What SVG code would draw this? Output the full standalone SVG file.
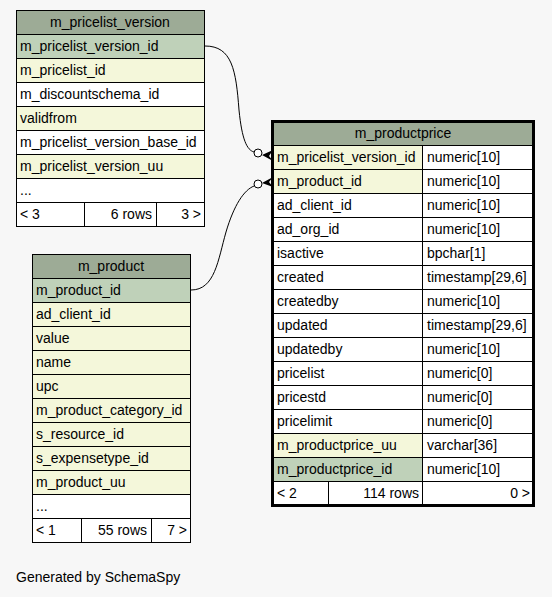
<svg xmlns="http://www.w3.org/2000/svg" width="552" height="597" viewBox="0 0 552 597">
<style>
text{font-family:"Liberation Sans",Arial,sans-serif;font-size:14px;fill:#000}
.c{text-anchor:middle}
.r{text-anchor:end}
.t rect{stroke:#000;stroke-width:1}
.h{fill:#9dab96}
.pk{fill:#bfd1b9}
.y{fill:#f4f7da}
.w{fill:#fff}
.t rect.bold{fill:none;stroke:#000;stroke-width:3}
.edge{fill:none;stroke:#000;stroke-width:1}
.dot{fill:#fff;stroke:#000;stroke-width:1}
</style>
<rect x="0" y="0" width="552" height="597" fill="#f7f7f7"/>

<g id="connectors">
<path class="edge" d="M205,46 C232,46 236,70 239,110 C242,140 247,150 254,152"/>
<circle class="dot" cx="258" cy="153" r="4"/>
<polygon points="262,155 273,150 269,156 273,161" fill="#000"/>
<path class="edge" d="M191,290 C215,290 218,260 226,232 C234,205 244,190 254,186"/>
<circle class="dot" cx="258" cy="184" r="4"/>
<polygon points="262,183 273,177 269,182 273,187" fill="#000"/>
</g>

<g id="m_pricelist_version" class="t">
<rect class="h" x="16.5" y="10.5" width="188" height="24"/>
<text class="c" x="110" y="26.5">m_pricelist_version</text>
<rect class="pk" x="16.5" y="34.5" width="188" height="24"/>
<text x="20" y="50.5">m_pricelist_version_id</text>
<rect class="y" x="16.5" y="58.5" width="188" height="24"/>
<text x="20" y="74.5">m_pricelist_id</text>
<rect class="w" x="16.5" y="82.5" width="188" height="24"/>
<text x="20" y="98.5">m_discountschema_id</text>
<rect class="y" x="16.5" y="106.5" width="188" height="24"/>
<text x="20" y="122.5">validfrom</text>
<rect class="w" x="16.5" y="130.5" width="188" height="24"/>
<text x="20" y="146.5">m_pricelist_version_base_id</text>
<rect class="y" x="16.5" y="154.5" width="188" height="24"/>
<text x="20" y="170.5">m_pricelist_version_uu</text>
<rect class="w" x="16.5" y="178.5" width="188" height="24"/>
<text x="20" y="194.5">...</text>
<rect class="w" x="16.5" y="202.5" width="68" height="24"/>
<rect class="w" x="84.5" y="202.5" width="72" height="24"/>
<rect class="w" x="156.5" y="202.5" width="48" height="24"/>
<text x="20" y="218.5">&lt; 3</text>
<text class="r" x="152" y="218.5">6 rows</text>
<text class="r" x="201" y="218.5">3 &gt;</text>
</g>

<g id="m_product" class="t">
<rect class="h" x="32.5" y="254.5" width="158" height="24"/>
<text class="c" x="111" y="270.5">m_product</text>
<rect class="pk" x="32.5" y="278.5" width="158" height="24"/>
<text x="36" y="294.5">m_product_id</text>
<rect class="y" x="32.5" y="302.5" width="158" height="24"/>
<text x="36" y="318.5">ad_client_id</text>
<rect class="y" x="32.5" y="326.5" width="158" height="24"/>
<text x="36" y="342.5">value</text>
<rect class="y" x="32.5" y="350.5" width="158" height="24"/>
<text x="36" y="366.5">name</text>
<rect class="y" x="32.5" y="374.5" width="158" height="24"/>
<text x="36" y="390.5">upc</text>
<rect class="y" x="32.5" y="398.5" width="158" height="24"/>
<text x="36" y="414.5">m_product_category_id</text>
<rect class="y" x="32.5" y="422.5" width="158" height="24"/>
<text x="36" y="438.5">s_resource_id</text>
<rect class="y" x="32.5" y="446.5" width="158" height="24"/>
<text x="36" y="462.5">s_expensetype_id</text>
<rect class="y" x="32.5" y="470.5" width="158" height="24"/>
<text x="36" y="486.5">m_product_uu</text>
<rect class="w" x="32.5" y="494.5" width="158" height="24"/>
<text x="36" y="510.5">...</text>
<rect class="w" x="32.5" y="518.5" width="49" height="24"/>
<rect class="w" x="81.5" y="518.5" width="70" height="24"/>
<rect class="w" x="151.5" y="518.5" width="39" height="24"/>
<text x="36" y="534.5">&lt; 1</text>
<text class="r" x="147" y="534.5">55 rows</text>
<text class="r" x="187" y="534.5">7 &gt;</text>
</g>

<g id="m_productprice" class="t">
<rect class="h" x="272.5" y="121.5" width="261" height="24"/>
<text class="c" x="403" y="137.5">m_productprice</text>
<rect class="y" x="272.5" y="145.5" width="150" height="24"/>
<rect class="w" x="422.5" y="145.5" width="111" height="24"/>
<text x="277" y="161.5">m_pricelist_version_id</text>
<text x="427" y="161.5">numeric[10]</text>
<rect class="y" x="272.5" y="169.5" width="150" height="24"/>
<rect class="w" x="422.5" y="169.5" width="111" height="24"/>
<text x="277" y="185.5">m_product_id</text>
<text x="427" y="185.5">numeric[10]</text>
<rect class="w" x="272.5" y="193.5" width="150" height="24"/>
<rect class="w" x="422.5" y="193.5" width="111" height="24"/>
<text x="277" y="209.5">ad_client_id</text>
<text x="427" y="209.5">numeric[10]</text>
<rect class="w" x="272.5" y="217.5" width="150" height="24"/>
<rect class="w" x="422.5" y="217.5" width="111" height="24"/>
<text x="277" y="233.5">ad_org_id</text>
<text x="427" y="233.5">numeric[10]</text>
<rect class="w" x="272.5" y="241.5" width="150" height="24"/>
<rect class="w" x="422.5" y="241.5" width="111" height="24"/>
<text x="277" y="257.5">isactive</text>
<text x="427" y="257.5">bpchar[1]</text>
<rect class="w" x="272.5" y="265.5" width="150" height="24"/>
<rect class="w" x="422.5" y="265.5" width="111" height="24"/>
<text x="277" y="281.5">created</text>
<text x="427" y="281.5">timestamp[29,6]</text>
<rect class="w" x="272.5" y="289.5" width="150" height="24"/>
<rect class="w" x="422.5" y="289.5" width="111" height="24"/>
<text x="277" y="305.5">createdby</text>
<text x="427" y="305.5">numeric[10]</text>
<rect class="w" x="272.5" y="313.5" width="150" height="24"/>
<rect class="w" x="422.5" y="313.5" width="111" height="24"/>
<text x="277" y="329.5">updated</text>
<text x="427" y="329.5">timestamp[29,6]</text>
<rect class="w" x="272.5" y="337.5" width="150" height="24"/>
<rect class="w" x="422.5" y="337.5" width="111" height="24"/>
<text x="277" y="353.5">updatedby</text>
<text x="427" y="353.5">numeric[10]</text>
<rect class="w" x="272.5" y="361.5" width="150" height="24"/>
<rect class="w" x="422.5" y="361.5" width="111" height="24"/>
<text x="277" y="377.5">pricelist</text>
<text x="427" y="377.5">numeric[0]</text>
<rect class="w" x="272.5" y="385.5" width="150" height="24"/>
<rect class="w" x="422.5" y="385.5" width="111" height="24"/>
<text x="277" y="401.5">pricestd</text>
<text x="427" y="401.5">numeric[0]</text>
<rect class="w" x="272.5" y="409.5" width="150" height="24"/>
<rect class="w" x="422.5" y="409.5" width="111" height="24"/>
<text x="277" y="425.5">pricelimit</text>
<text x="427" y="425.5">numeric[0]</text>
<rect class="y" x="272.5" y="433.5" width="150" height="24"/>
<rect class="w" x="422.5" y="433.5" width="111" height="24"/>
<text x="277" y="449.5">m_productprice_uu</text>
<text x="427" y="449.5">varchar[36]</text>
<rect class="pk" x="272.5" y="457.5" width="150" height="24"/>
<rect class="w" x="422.5" y="457.5" width="111" height="24"/>
<text x="277" y="473.5">m_productprice_id</text>
<text x="427" y="473.5">numeric[10]</text>
<rect class="w" x="272.5" y="481.5" width="56" height="24"/>
<rect class="w" x="328.5" y="481.5" width="94" height="24"/>
<rect class="w" x="422.5" y="481.5" width="111" height="24"/>
<text x="277" y="497.5">&lt; 2</text>
<text class="r" x="419" y="497.5">114 rows</text>
<text class="r" x="530" y="497.5">0 &gt;</text>
<rect class="bold" x="272.5" y="121.5" width="261" height="384"/>
</g>

<text x="16" y="582">Generated by SchemaSpy</text>
</svg>
